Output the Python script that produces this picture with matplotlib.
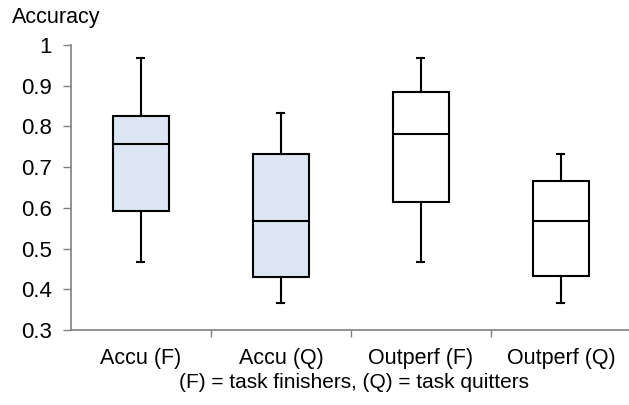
import matplotlib
matplotlib.use('Agg')
import matplotlib.pyplot as plt

plt.rcParams['font.family'] = ['Liberation Sans', 'DejaVu Sans']

# Five-number summaries per group
groups = ['Accu (F)', 'Accu (Q)', 'Outperf (F)', 'Outperf (Q)']
whisker_low = [0.467, 0.367, 0.467, 0.367]
q1 = [0.592, 0.430, 0.615, 0.433]
medians = [0.757, 0.567, 0.781, 0.567]
q3 = [0.825, 0.733, 0.884, 0.667]
whisker_high = [0.967, 0.833, 0.967, 0.733]
fills = ['#DCE6F2', '#DCE6F2', 'white', 'white']

yticks = [0.3, 0.4, 0.5, 0.6, 0.7, 0.8, 0.9, 1.0]

stats = []
for i, name in enumerate(groups):
    stats.append({
        'label': name,
        'whislo': whisker_low[i],
        'q1': q1[i],
        'med': medians[i],
        'q3': q3[i],
        'whishi': whisker_high[i],
        'fliers': [],
    })

fig = plt.figure(figsize=(6.29, 4.05), dpi=100)
ax = fig.add_axes([71 / 629, 1 - 330 / 405, 558 / 629, 285 / 405])

line = dict(color='black', linewidth=1.5)
bp = ax.bxp(stats, positions=[1, 2, 3, 4], widths=0.4, patch_artist=True,
            showfliers=False, boxprops=dict(edgecolor='black', linewidth=1.5),
            medianprops=line, whiskerprops=line, capprops=line,
            capwidths=0.05)
for patch, c in zip(bp['boxes'], fills):
    patch.set_facecolor(c)

ax.set_xlim(0.5, 4.486)
ax.set_ylim(0.3, 1.0)
ax.set_yticks(yticks)
ax.set_yticklabels(['1' if v == 1.0 else f'{v:.1f}' for v in yticks])

ax.set_xticks([1, 2, 3, 4])
ax.set_xticklabels(groups)
ax.set_xticks([1.5, 2.5, 3.5], minor=True)
ax.tick_params(axis='x', which='major', length=0, pad=13, labelsize=15.5)
ax.tick_params(axis='x', which='minor', length=5, color='#808080', width=1)
ax.tick_params(axis='y', length=6, color='#808080', width=1, labelsize=16, pad=8)

for s in ['top', 'right']:
    ax.spines[s].set_visible(False)
for s in ['left', 'bottom']:
    ax.spines[s].set_color('#808080')
    ax.spines[s].set_linewidth(1.2)

fig.text(12 / 629, 1 - 18 / 405, 'Accuracy', fontsize=15.5, va='center', ha='left')
fig.text(354 / 629, 1 - 383 / 405, '(F) = task finishers, (Q) = task quitters',
         fontsize=15, va='center', ha='center')

fig.savefig('out.png', dpi=100, facecolor='white')
